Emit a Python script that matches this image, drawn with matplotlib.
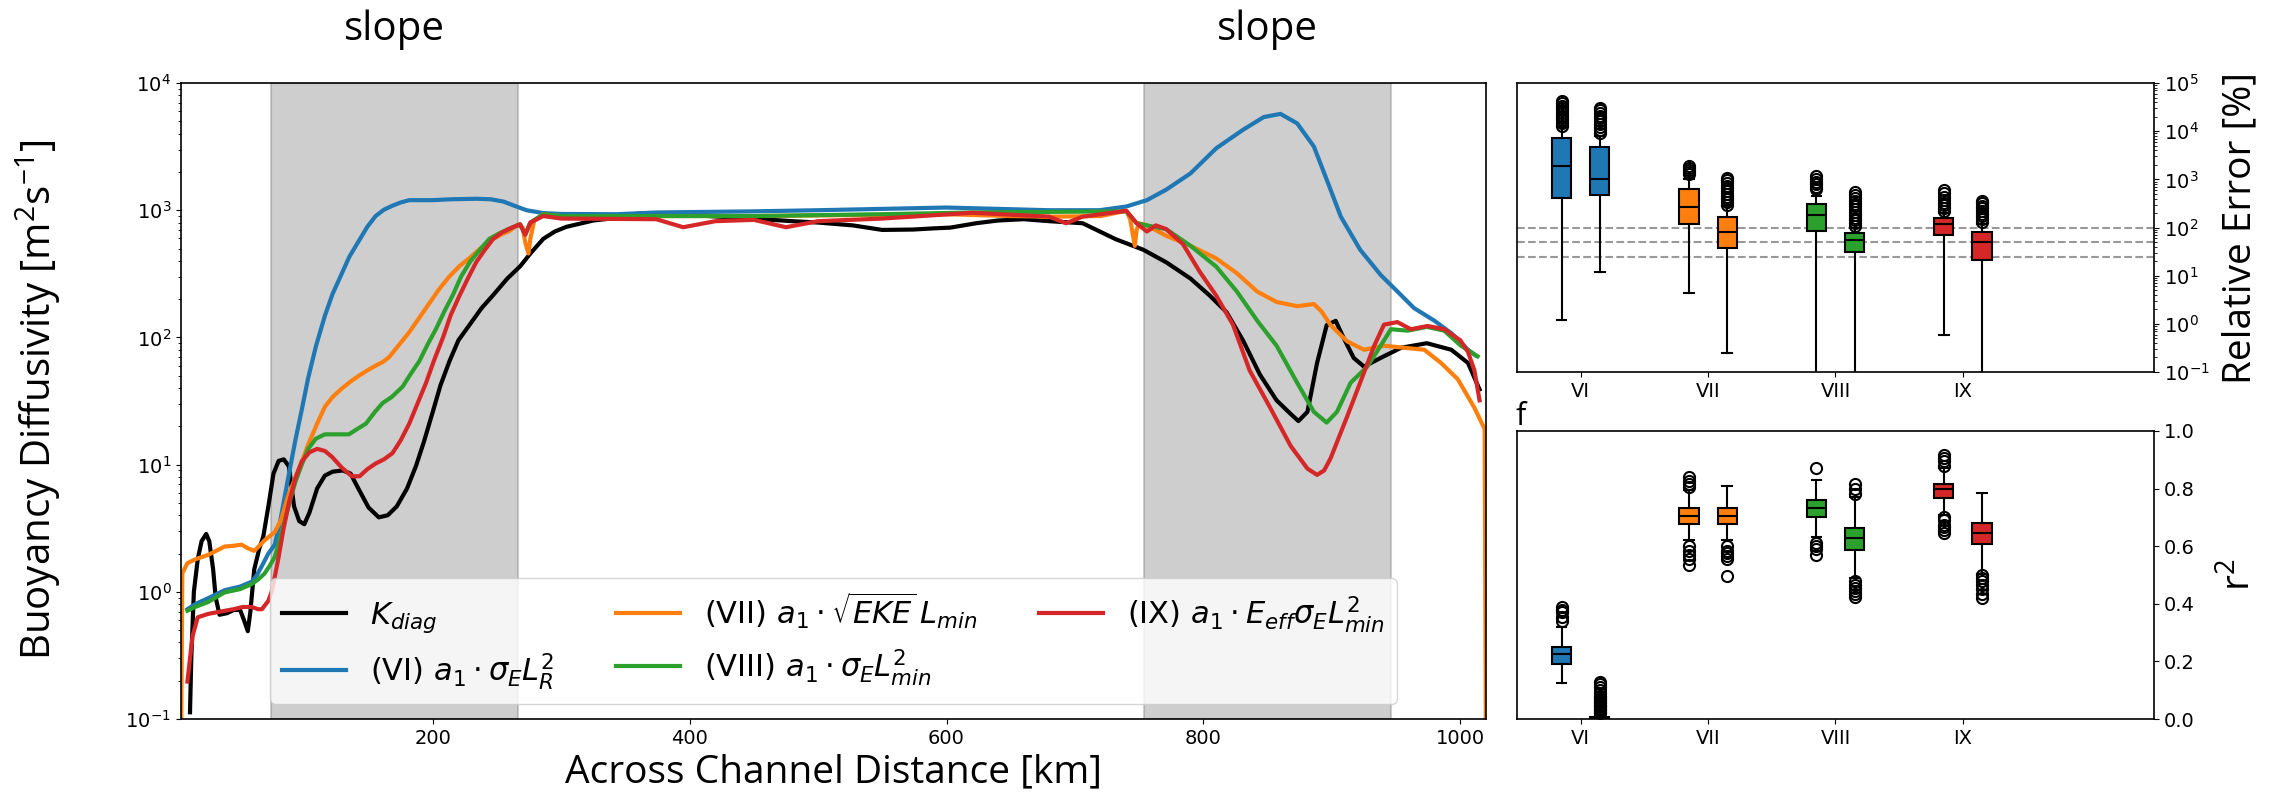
import matplotlib
matplotlib.use("Agg")
import matplotlib.pyplot as plt
from matplotlib import transforms

plt.rcParams['font.family'] = ['DejaVu Sans']

# ---- main panel: buoyancy diffusivity across the channel ----
km_diag = [11, 12, 14, 17, 20, 23.6, 26, 29, 31, 34, 40, 45, 50, 53, 56, 58, 61, 65, 68, 72, 76,
           80, 84, 88, 92, 96, 100, 104, 110, 116, 122, 130, 136, 142, 150, 158, 165, 172, 180,
           187, 193, 200, 206, 213, 220, 229, 238, 247, 258, 268, 276, 286, 295, 304, 325, 343,
           360, 387, 400, 430, 452, 480, 500, 527, 550, 574, 590, 603, 623, 640, 660, 680, 706,
           732, 753, 771, 790, 805, 818, 831, 844, 857, 868, 874, 881, 888.5, 896, 903, 909, 917,
           925, 938, 954, 974, 993, 1006, 1015]
k_diag = [0.113, 0.3, 1.0, 1.8, 2.5, 2.85, 2.5, 1.5, 0.9, 0.66, 0.68, 0.72, 0.72, 0.6, 0.49, 0.7,
          1.5, 2.2, 2.7, 4.7, 8.5, 10.7, 11.0, 9.7, 4.7, 3.6, 3.4, 4.2, 6.5, 8.2, 8.8, 9.0, 8.5,
          6.5, 4.6, 3.85, 4.0, 4.7, 6.5, 9.8, 15, 26, 42, 65, 95, 127, 170, 215, 290, 362, 457,
          595, 680, 740, 830, 870, 940, 950, 920, 880, 855, 820, 800, 760, 700, 705, 720, 730, 790,
          830, 850, 820, 790, 590, 490, 390, 290, 213, 158, 94, 51, 32, 25, 22, 26, 63, 125, 135,
          100, 69, 59, 69, 83, 90, 80, 63, 39]

km_vi = [9, 15, 25, 38, 50, 59, 63, 67, 72, 77, 81, 85, 89, 93, 98, 103, 109, 116, 122, 129, 135,
         142.5, 149, 155.5, 162, 168.6, 175, 181.7, 200, 215, 234, 245, 255, 264, 273, 286, 300,
         343, 374, 450, 500, 600, 680, 719, 740, 756, 771, 790, 810, 831, 847, 860, 873, 886, 896,
         907, 922, 938, 951, 964, 980, 993, 1006, 1012]
k_vi = [0.73, 0.8, 0.89, 1.03, 1.1, 1.2, 1.35, 1.6, 2.0, 2.35, 3.5, 5.8, 9.5, 15.5, 27, 48, 85,
        148, 220, 315, 430, 575, 740, 900, 1010, 1085, 1150, 1200, 1200, 1220, 1230, 1220, 1170,
        1080, 1000, 950, 935, 930, 960, 980, 1000, 1050, 1000, 1000, 1070, 1200, 1450, 1950, 3070,
        4300, 5400, 5720, 4820, 3170, 1740, 890, 490, 310, 230, 170, 135, 108, 80, 72]

km_vii = [4, 5, 9, 15, 25, 38, 45, 51, 56, 61, 65, 69, 77, 82, 87, 93, 98, 103, 110, 116, 122, 129,
          136, 142.5, 149, 155.5, 161, 166, 174, 181.7, 190, 197.4, 205, 213, 221, 229, 238, 247,
          254, 260, 266, 270, 272, 274.5, 276, 279, 286, 300, 343, 374, 450, 550, 600, 650, 680,
          720, 740, 743, 746.6, 748, 750, 756, 771, 790, 810, 826, 842, 857, 873, 886, 892, 899,
          912, 925, 940.6, 956, 972, 985, 998, 1011, 1019, 1020]
k_vii = [0.05, 1.4, 1.68, 1.8, 1.95, 2.27, 2.3, 2.35, 2.2, 2.1, 2.3, 2.54, 2.95, 3.7, 5.5, 7.9, 10.5,
         14.4, 21, 28.5, 34, 39.5, 45, 50, 55, 60, 64, 70, 88, 110, 145, 186, 240, 302, 365, 424,
         510, 595, 650, 690, 770, 730, 560, 457, 600, 830, 930, 900, 880, 900, 900, 920, 930, 900,
         890, 900, 990, 850, 525, 700, 790, 760, 630, 525, 418, 320, 229, 190, 176, 183, 160, 125,
         93, 80, 86, 83, 80, 63, 47, 28, 19, 0.05]

km_viii = [9, 15, 25, 38, 50, 59, 64, 69, 73, 77, 81, 85, 89, 93, 98, 103, 109, 116, 125, 134.7, 141,
           148, 155, 161, 168, 176.5, 183, 189.5, 196, 202.6, 209, 215.6, 222, 229, 236, 244, 252,
           260, 268, 272, 276, 286, 300, 374, 450, 550, 620, 680, 740, 748, 756, 771, 790, 810,
           826, 842, 857, 873, 886, 896, 904, 914.6, 927.6, 938, 946, 959, 974, 987.5, 1000.5,
           1013.5]
k_viii = [0.71, 0.76, 0.83, 0.99, 1.05, 1.15, 1.25, 1.39, 1.6, 1.88, 2.6, 3.7, 5.3, 7.3, 10, 13.3, 16,
          17.3, 17.3, 17.3, 19, 21, 26, 30.5, 34, 41, 52, 65, 88, 117, 160, 215, 300, 393, 480,
          595, 660, 718, 775, 645, 800, 930, 900, 900, 900, 930, 960, 970, 980, 790, 760, 710, 525,
          360, 230, 135, 86, 44, 26, 21.4, 26, 44, 59, 86, 116, 113, 121, 113, 86, 71]

km_ix = [9, 11, 13, 17, 25, 35, 45, 52, 59, 64, 67, 72, 75, 80, 84, 88, 93, 98, 104, 110, 116,
         121.6, 129, 137, 143, 149, 155.5, 162, 168.6, 175, 181.7, 188, 194.8, 201, 208, 214, 221,
         228, 234, 240, 247, 254, 260, 268, 272, 276, 286, 300, 374, 395, 420, 450, 475, 500, 550,
         620, 680, 693, 706, 740, 748, 756, 763, 771, 784, 797, 810, 823, 836, 852, 868, 881,
         888.5, 894, 899, 912, 922, 933, 940.6, 951, 961.5, 974.5, 987.5, 1000, 1006, 1011, 1015]
k_ix = [0.197, 0.3, 0.45, 0.63, 0.67, 0.7, 0.73, 0.76, 0.76, 0.73, 0.73, 0.85, 1.03, 1.88, 3.2, 5.0,
        7.8, 10.6, 12.5, 13.3, 12.8, 11.5, 9.5, 8.1, 8.1, 9.2, 10.2, 11, 12.3, 15.5, 21, 30, 44,
        66, 100, 150, 215, 300, 393, 480, 595, 670, 718, 775, 640, 800, 900, 860, 850, 735, 820,
        840, 735, 820, 860, 955, 890, 790, 890, 990, 790, 680, 760, 710, 543, 330, 213, 126, 55,
        28, 14, 9.3, 8.3, 9, 11.2, 24, 44, 86, 126, 132, 116, 123, 116, 95, 77, 55, 32]

labels = [r'$K_{diag}$',
          r'(VI) $a_1 \cdot \sigma_E L_R^2$',
          r'(VII) $a_1 \cdot \sqrt{EKE}\,L_{min}$',
          r'(VIII) $a_1 \cdot \sigma_E L_{min}^2$',
          r'(IX) $a_1 \cdot E_{eff}\sigma_E L_{min}^2$']
colors = ['black', 'tab:blue', 'tab:orange', 'tab:green', 'tab:red']

slope_spans = [(74, 266), (754, 946)]

# ---- right panels: box statistics (two boxes per scheme) ----
schemes = ['VI', 'VII', 'VIII', 'IX']
box_colors = ['tab:blue', 'tab:blue', 'tab:orange', 'tab:orange',
              'tab:green', 'tab:green', 'tab:red', 'tab:red']

err_q1 = [418, 467, 120, 37, 83, 31, 70, 21]
err_med = [1900, 1000, 268, 81, 180, 54, 117, 50]
err_q3 = [7180, 4800, 624, 165, 303, 78, 160, 81]
err_lo = [1.2, 11.9, 4.4, 0.25, 0.05, 0.05, 0.6, 0.05]
err_hi = [12000, 8000, 1000, 280, 450, 100, 200, 120]
err_fliers = [
    [13000, 15000, 17000, 19000, 21000, 24000, 27000, 30000, 34000, 38000, 42000],
    [9000, 10500, 12000, 14000, 16000, 18500, 21000, 24000, 27000, 30000],
    [1300, 1450, 1600, 1750, 1900],
    [300, 340, 390, 440, 500, 570, 650, 740, 840, 950, 1080],
    [620, 700, 800, 900, 1000, 1150],
    [110, 125, 140, 160, 185, 210, 240, 275, 315, 360, 410, 470, 540],
    [220, 250, 290, 330, 380, 440, 520, 600],
    [130, 150, 170, 195, 220, 250, 285, 320, 350],
]
err_refs = [100, 50, 25]

r2_q1 = [0.19, 0.0, 0.676, 0.676, 0.702, 0.586, 0.768, 0.607]
r2_med = [0.225, 0.0, 0.705, 0.705, 0.733, 0.627, 0.797, 0.646]
r2_q3 = [0.249, 0.008, 0.731, 0.733, 0.76, 0.664, 0.817, 0.679]
r2_lo = [0.124, 0.0, 0.62, 0.62, 0.632, 0.488, 0.708, 0.505]
r2_hi = [0.32, 0.015, 0.794, 0.808, 0.831, 0.771, 0.87, 0.785]
r2_fliers = [
    [0.34, 0.355, 0.37, 0.38, 0.39],
    [0.02, 0.025, 0.03, 0.035, 0.04, 0.045, 0.05, 0.055, 0.06, 0.065, 0.07, 0.075, 0.08,
     0.09, 0.1, 0.11, 0.12, 0.13],
    [0.535, 0.555, 0.57, 0.585, 0.6, 0.805, 0.815, 0.825, 0.84],
    [0.495, 0.555, 0.565, 0.575, 0.585, 0.6],
    [0.57, 0.59, 0.6, 0.61, 0.872],
    [0.425, 0.435, 0.445, 0.455, 0.465, 0.478, 0.78, 0.8, 0.817],
    [0.645, 0.655, 0.665, 0.675, 0.69, 0.7, 0.88, 0.895, 0.905, 0.916],
    [0.42, 0.435, 0.45, 0.465, 0.48, 0.49, 0.5],
]

BIG = 'Open Sans'

fig = plt.figure(figsize=(22.77, 7.93), dpi=100)
ax = fig.add_axes([0.0795, 0.0933, 0.5731, 0.802])
ax_err = fig.add_axes([0.6662, 0.5309, 0.2798, 0.3644])
ax_r2 = fig.add_axes([0.6662, 0.0933, 0.2798, 0.3632])

for a in (ax, ax_err, ax_r2):
    for s in a.spines.values():
        s.set_linewidth(1.2)

# main panel
for lo, hi in slope_spans:
    ax.axvspan(lo, hi, color='grey', alpha=0.38, lw=1.5)

series = [(km_diag, k_diag), (km_vi, k_vi), (km_vii, k_vii), (km_viii, k_viii), (km_ix, k_ix)]
for (x, y), c, lab in zip(series, colors, labels):
    ax.plot(x, y, color=c, lw=3, label=lab)

ax.set_yscale('log')
ax.set_ylim(0.1, 1e4)
ax.set_xlim(4, 1020)
ax.tick_params(labelsize=14)
ax.set_xlabel('Across Channel Distance [km]', fontsize=28, family=BIG, labelpad=4)
fig.text(38 / 2277, 1 - 400 / 793, r'Buoyancy Diffusivity [m$\mathregular{^2}$s$\mathregular{^{-1}}$]',
         rotation=90, ha='center', va='center', fontsize=29, family=BIG)
ax.legend(ncol=3, loc='lower center', fontsize=22, handlelength=2.1)

trans = transforms.blended_transform_factory(ax.transData, fig.transFigure)
for lo, hi in slope_spans:
    ax.text((lo + hi) / 2, 0.962, 'slope', transform=trans, ha='center', va='center',
            fontsize=29, family=BIG)

# box panels
positions = [k + s for k in range(len(schemes)) for s in (-0.15, 0.15)]


def draw_boxes(a, q1, med, q3, lo, hi, fl):
    stats = []
    for i in range(len(q1)):
        stats.append(dict(q1=q1[i], med=med[i], q3=q3[i], whislo=lo[i], whishi=hi[i], fliers=fl[i]))
    bp = a.bxp(stats, positions=positions, widths=0.15, patch_artist=True, manage_ticks=False,
               boxprops=dict(edgecolor='black', linewidth=1.5),
               medianprops=dict(color='black', linewidth=1.5),
               whiskerprops=dict(color='black', linewidth=1.5),
               capprops=dict(color='black', linewidth=1.5),
               flierprops=dict(marker='o', markerfacecolor='none', markeredgecolor='black',
                               markersize=8, markeredgewidth=1.5))
    for patch, c in zip(bp['boxes'], box_colors):
        patch.set_facecolor(c)
    a.set_xlim(-0.5, 4.5)
    a.set_xticks(range(len(schemes)))
    a.set_xticklabels(schemes)
    a.yaxis.tick_right()
    a.tick_params(labelsize=14)


for v in err_refs:
    ax_err.axhline(v, color='grey', ls='--', lw=1.5, alpha=0.8, zorder=0.5)
draw_boxes(ax_err, err_q1, err_med, err_q3, err_lo, err_hi, err_fliers)
ax_err.set_yscale('log')
ax_err.set_ylim(0.1, 1e5)

draw_boxes(ax_r2, r2_q1, r2_med, r2_q3, r2_lo, r2_hi, r2_fliers)
ax_r2.set_ylim(0, 1)
ax_r2.set_yticks([0, 0.2, 0.4, 0.6, 0.8, 1.0])

fig.text(2240 / 2277, 1 - 228 / 793, 'Relative Error [%]', rotation=90, ha='center',
         va='center', fontsize=28, family=BIG)
fig.text(2240 / 2277, 1 - 575 / 793, r'r$\mathregular{^2}$', rotation=90, ha='center',
         va='center', fontsize=28, family=BIG)
fig.text(1515 / 2277, 1 - 425 / 793, 'f', ha='left', va='baseline', fontsize=22, family=BIG)

fig.savefig('out.png', dpi=100)
